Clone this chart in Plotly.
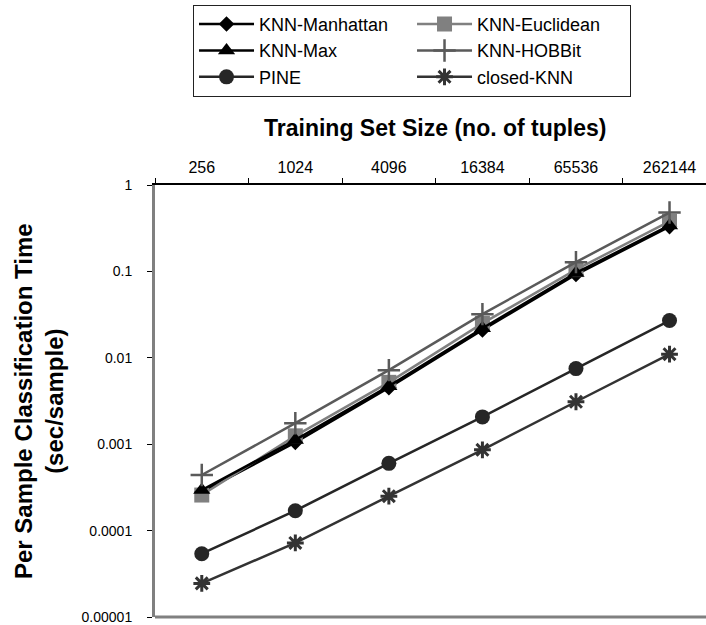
import plotly.graph_objects as go

sizes = ["256", "1024", "4096", "16384", "65536", "262144"]
knn_manhattan = [2.8e-4, 1.05e-3, 4.5e-3, 0.021, 0.092, 0.33]
knn_euclidean = [2.58e-4, 1.25e-3, 5.2e-3, 0.025, 0.105, 0.38]
knn_max = [2.95e-4, 1.12e-3, 4.7e-3, 0.022, 0.096, 0.34]
knn_hobbit = [4.4e-4, 1.75e-3, 7.2e-3, 0.032, 0.128, 0.48]
pine = [5.4e-5, 1.7e-4, 6.0e-4, 2.07e-3, 7.5e-3, 0.027]
closed_knn = [2.45e-5, 7.2e-5, 2.5e-4, 8.6e-4, 3.1e-3, 0.011]

y_tickvals = [1e-5, 1e-4, 1e-3, 1e-2, 1e-1, 1]
y_ticktext = ["0.00001", "0.0001", "0.001", "0.01", "0.1", "1"]

FONT = "Arial, 'Liberation Sans', sans-serif"

series = [
    ("KNN-Manhattan", knn_manhattan, "#000000", dict(symbol="diamond", size=12, color="#000000")),
    ("KNN-Euclidean", knn_euclidean, "#808080", dict(symbol="square", size=15, color="#808080")),
    ("KNN-Max", knn_max, "#000000", dict(symbol="triangle-up", size=15, color="#000000")),
    ("KNN-HOBBit", knn_hobbit, "#5a5a5a", dict(symbol="cross-thin", size=16, color="#5a5a5a",
                                              line=dict(color="#5a5a5a", width=2.5))),
    ("PINE", pine, "#262626", dict(symbol="circle", size=15, color="#262626")),
    ("closed-KNN", closed_knn, "#333333", dict(symbol="asterisk", size=14, color="#333333",
                                              line=dict(color="#333333", width=3))),
]

fig = go.Figure()
for name, vals, col, mk in series:
    fig.add_trace(go.Scatter(
        x=sizes, y=vals, name=name, mode="lines+markers",
        line=dict(color=col, width=2.5), marker=mk,
    ))

fig.update_layout(
    width=706, height=625,
    margin=dict(l=155, r=0, t=185, b=8, autoexpand=False),
    plot_bgcolor="white", paper_bgcolor="white",
    font=dict(family=FONT, color="black"),
    showlegend=True,
    legend=dict(
        orientation="h", x=0.069, y=1.417, xanchor="left", yanchor="top",
        bgcolor="white", bordercolor="#222222", borderwidth=1,
        font=dict(size=18, family=FONT, color="black"),
        itemwidth=55, entrywidth=148, entrywidthmode="pixels",
        tracegroupgap=0,
    ),
    xaxis=dict(
        type="category", side="top", range=[-0.5, 5.39],
        showline=True, linecolor="black", linewidth=2,
        ticks="outside", ticklen=5, tickcolor="black", tickwidth=1,
        tickson="boundaries", showgrid=False, zeroline=False,
        tickfont=dict(size=16, family=FONT, color="black"),
        ticklabelstandoff=4, automargin=False,
    ),
    yaxis=dict(
        type="log", range=[-5, 0],
        tickvals=y_tickvals, ticktext=y_ticktext,
        showline=True, linecolor="#808080", linewidth=3,
        ticks="outside", ticklen=5, tickcolor="black", tickwidth=1,
        showgrid=False, zeroline=False,
        tickfont=dict(size=14, family=FONT, color="black"),
        ticklabelstandoff=12, automargin=False,
    ),
    shapes=[dict(type="line", xref="paper", yref="paper", x0=0, x1=1, y0=0, y1=0,
                 line=dict(color="#808080", width=3))],
    annotations=[
        dict(text="<b>Training Set Size (no. of tuples)</b>", xref="paper", yref="paper",
             x=0.509, y=1.132, xanchor="center", yanchor="middle", showarrow=False,
             font=dict(size=23, family=FONT, color="black")),
        dict(text="<b>Per Sample Classification Time<br>(sec/sample)</b>", xref="paper", yref="paper",
             x=-0.2105, y=0.5, xanchor="center", yanchor="middle", showarrow=False, textangle=-90,
             font=dict(size=24, family=FONT, color="black")),
    ],
)

fig.write_html("out.html", config={"displayModeBar": False},
               post_script="document.body.style.margin='0';")
